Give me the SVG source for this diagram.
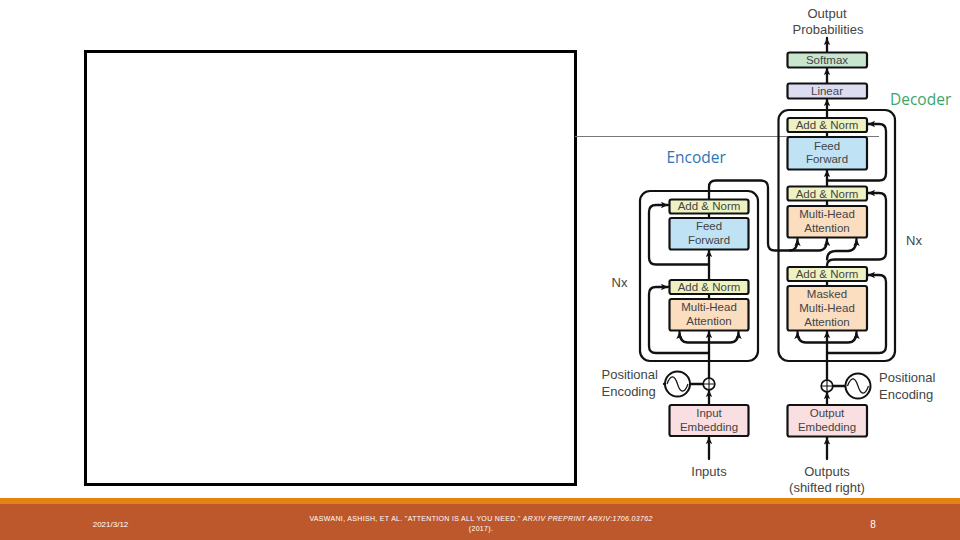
<svg xmlns="http://www.w3.org/2000/svg" width="960" height="540" viewBox="0 0 960 540">
<style>
.l{font-family:"Liberation Sans",Arial,sans-serif;font-size:11.5px;fill:#444;text-anchor:middle}
.t{font-size:13px}
.s{text-anchor:start}
.b{stroke:#111;stroke-width:2.200}
.c{fill:none;stroke:#111;stroke-width:2.300;stroke-linecap:round}
.o{fill:none;stroke:#111;stroke-width:2.200}
.h{font-family:"Open Sans","Noto Sans",sans-serif;font-size:15.500px;text-anchor:start}
.f{font-family:"Liberation Sans",Arial,sans-serif;fill:#fff}
.an{fill:#EEF2C2}.ff{fill:#BFE3F5}.mh{fill:#FBDDC0}.em{fill:#F9DFE1}
</style>
<defs>
<marker id="a" markerUnits="userSpaceOnUse" markerWidth="8" markerHeight="8" refX="7" refY="4" orient="auto"><path d="M0 .8L7 4L0 7.2L1.6 4Z" fill="#111"/></marker>
</defs>
<rect width="960" height="540" fill="#fff"/>
<g id="frame"><rect x="85.500" y="51.500" width="490" height="433" fill="#fff" stroke="#000" stroke-width="3"/></g>
<path id="rule" d="M575 136.500H879" stroke="#777" stroke-width="1" fill="none"/>
<g id="footer"><rect y="498" width="960" height="6" fill="#E48312"/><rect y="504" width="960" height="36" fill="#BD582C"/>
<text class="f" x="110.500" y="527" font-size="8" text-anchor="middle">2021/3/12</text>
<text class="f" x="481" y="521" font-size="7" letter-spacing=".32" text-anchor="middle">VASWANI, ASHISH, ET AL. "ATTENTION IS ALL YOU NEED." <tspan font-style="italic">ARXIV PREPRINT ARXIV:1706.03762</tspan></text>
<text class="f" x="481" y="531" font-size="7" letter-spacing=".32" text-anchor="middle">(2017).</text>
<text class="f" x="873" y="528" font-size="10" text-anchor="middle">8</text></g>

<g id="outer-boxes"><rect class="o" x="640" y="191" width="118" height="170" rx="10"/><rect class="o" x="778.500" y="110" width="116.500" height="251" rx="10"/></g>

<g id="connectors">
<path class="c" marker-end="url(#a)" d="M709 459V437"/>
<path class="c" marker-end="url(#a)" d="M709 405V390"/>
<path class="c" marker-end="url(#a)" d="M709 378V331"/>
<path class="c" marker-end="url(#a)" d="M709 353H656Q649 353 649 346V294Q649 287 656 287H668"/>
<path class="c" marker-end="url(#a)" d="M709 342.500H688Q679.500 342.500 679.500 332"/>
<path class="c" marker-end="url(#a)" d="M709 342.500H730Q738.500 342.500 738.500 332"/>
<path class="c" d="M709 298V294"/>
<path class="c" marker-end="url(#a)" d="M709 280V250"/>
<path class="c" marker-end="url(#a)" d="M709 264.500H656Q649 264.500 649 257.500V212Q649 205 656 205H668"/>
<path class="c" d="M709 218V213"/>
<path class="c" marker-end="url(#a)" d="M709 199V187Q709 180.500 716 180.500H761Q768 180.500 768 187.500V243.500Q768 250.500 775 250.500H790Q797.500 250.500 797.500 239"/>
<path class="c" marker-end="url(#a)" d="M790 250.500H819Q827 250.500 827 239"/>
<path class="c" d="M664 384H703.500"/>
<path class="c" d="M832.500 386H845"/>
<path class="c" marker-end="url(#a)" d="M827 459V437.500"/>
<path class="c" marker-end="url(#a)" d="M827 405V392"/>
<path class="c" marker-end="url(#a)" d="M827 380V331"/>
<path class="c" marker-end="url(#a)" d="M827 353H879Q886 353 886 346V282Q886 275 879 275H868"/>
<path class="c" marker-end="url(#a)" d="M827 342.500H806Q797.500 342.500 797.500 332"/>
<path class="c" marker-end="url(#a)" d="M827 342.500H848Q856.500 342.500 856.500 332"/>
<path class="c" d="M827 286V281"/>
<path class="c" d="M827 267V265.500Q827 259.500 834 259.500H879Q886 259.500 886 252.500V200Q886 193 879 193H868" marker-end="url(#a)"/>
<path class="c" marker-end="url(#a)" d="M827 259.500Q827 251 836 251H848Q856.500 251 856.500 239"/>
<path class="c" d="M827 206V201"/>
<path class="c" marker-end="url(#a)" d="M827 186V170"/>
<path class="c" marker-end="url(#a)" d="M827 180.500H879Q886 180.500 886 173.500V131Q886 124 879 124H868"/>
<path class="c" d="M827 137V132"/>
<path class="c" marker-end="url(#a)" d="M827 118V99"/>
<path class="c" marker-end="url(#a)" d="M827 83V68"/>
<path class="c" marker-end="url(#a)" d="M827 52V38"/>
</g>

<g id="enc-addnorm2"><rect class="b an" x="669.500" y="199.500" width="79" height="14" rx="2"/><text class="l" x="709" y="210">Add &amp; Norm</text></g>
<g id="enc-feedforward"><rect class="b ff" x="669.500" y="218" width="79" height="31.500" rx="2"/><text class="l" x="709" y="230">Feed</text><text class="l" x="709" y="244">Forward</text></g>
<g id="enc-addnorm1"><rect class="b an" x="669.500" y="280" width="79" height="14" rx="2"/><text class="l" x="709" y="291">Add &amp; Norm</text></g>
<g id="enc-attention"><rect class="b mh" x="669.500" y="299" width="79" height="31.500" rx="2"/><text class="l" x="709" y="311">Multi-Head</text><text class="l" x="709" y="325">Attention</text></g>
<g id="enc-embedding"><rect class="b em" x="669.500" y="405" width="79" height="31" rx="2"/><text class="l" x="709" y="417">Input</text><text class="l" x="709" y="431">Embedding</text></g>

<g id="softmax"><rect class="b" fill="#C8E6CE" x="787.500" y="52.500" width="79.500" height="15" rx="2"/><text class="l" x="827" y="64">Softmax</text></g>
<g id="linear"><rect class="b" fill="#DCDDF1" x="787.500" y="83.500" width="79.500" height="15" rx="2"/><text class="l" x="827" y="95">Linear</text></g>
<g id="dec-addnorm3"><rect class="b an" x="787.500" y="118" width="79.500" height="14" rx="2"/><text class="l" x="827" y="129">Add &amp; Norm</text></g>
<g id="dec-feedforward"><rect class="b ff" x="787.500" y="137" width="79.500" height="32.500" rx="2"/><text class="l" x="827" y="149.500">Feed</text><text class="l" x="827" y="163">Forward</text></g>
<g id="dec-addnorm2"><rect class="b an" x="787.500" y="186.500" width="79.500" height="14" rx="2"/><text class="l" x="827" y="197.500">Add &amp; Norm</text></g>
<g id="dec-attention"><rect class="b mh" x="787.500" y="206" width="79.500" height="31.500" rx="2"/><text class="l" x="827" y="218">Multi-Head</text><text class="l" x="827" y="232">Attention</text></g>
<g id="dec-addnorm1"><rect class="b an" x="787.500" y="267" width="79.500" height="14" rx="2"/><text class="l" x="827" y="278">Add &amp; Norm</text></g>
<g id="dec-masked"><rect class="b mh" x="787.500" y="286" width="79.500" height="44.500" rx="2"/><text class="l" x="827" y="298">Masked</text><text class="l" x="827" y="312">Multi-Head</text><text class="l" x="827" y="325.500">Attention</text></g>
<g id="dec-embedding"><rect class="b em" x="787.500" y="405" width="79.500" height="31.500" rx="2"/><text class="l" x="827" y="417">Output</text><text class="l" x="827" y="431">Embedding</text></g>

<g id="enc-plus"><circle cx="709" cy="384" r="5.800" fill="#fff" stroke="#111" stroke-width="1.700"/><path d="M703.500 384H714.500M709 378.500V389.500" stroke="#111" stroke-width="1.100"/></g>
<g id="enc-sine"><circle cx="677.500" cy="384" r="12.500" fill="#fff" stroke="#111" stroke-width="2"/><path d="M667 384C671 373 675 376 677.500 384S684 395 688 384" fill="none" stroke="#111" stroke-width="1.200"/></g>
<g id="dec-plus"><circle cx="827" cy="386" r="5.800" fill="#fff" stroke="#111" stroke-width="1.700"/><path d="M821.500 386H832.500M827 380.500V391.500" stroke="#111" stroke-width="1.100"/></g>
<g id="dec-sine"><circle cx="858" cy="386" r="12.500" fill="#fff" stroke="#111" stroke-width="2"/><path d="M847.500 386C851.500 375 855.500 378 858 386S864.500 397 868.500 386" fill="none" stroke="#111" stroke-width="1.200"/></g>

<g id="labels">
<text class="l t" x="827" y="18">Output</text><text class="l t" x="828" y="34">Probabilities</text>
<text class="h" x="890" y="105" fill="#3DA56A">Decoder</text>
<text class="h" x="666.500" y="163" fill="#2E75B6">Encoder</text>
<text class="l t" x="619.500" y="287">Nx</text><text class="l t" x="914" y="245">Nx</text>
<text class="l t s" x="601.500" y="379">Positional</text><text class="l t s" x="601.500" y="396">Encoding</text>
<text class="l t s" x="879" y="382">Positional</text><text class="l t s" x="879" y="399">Encoding</text>
<text class="l t" x="709" y="476">Inputs</text>
<text class="l t" x="827" y="476">Outputs</text><text class="l t" x="827" y="492">(shifted right)</text>
</g>
</svg>
